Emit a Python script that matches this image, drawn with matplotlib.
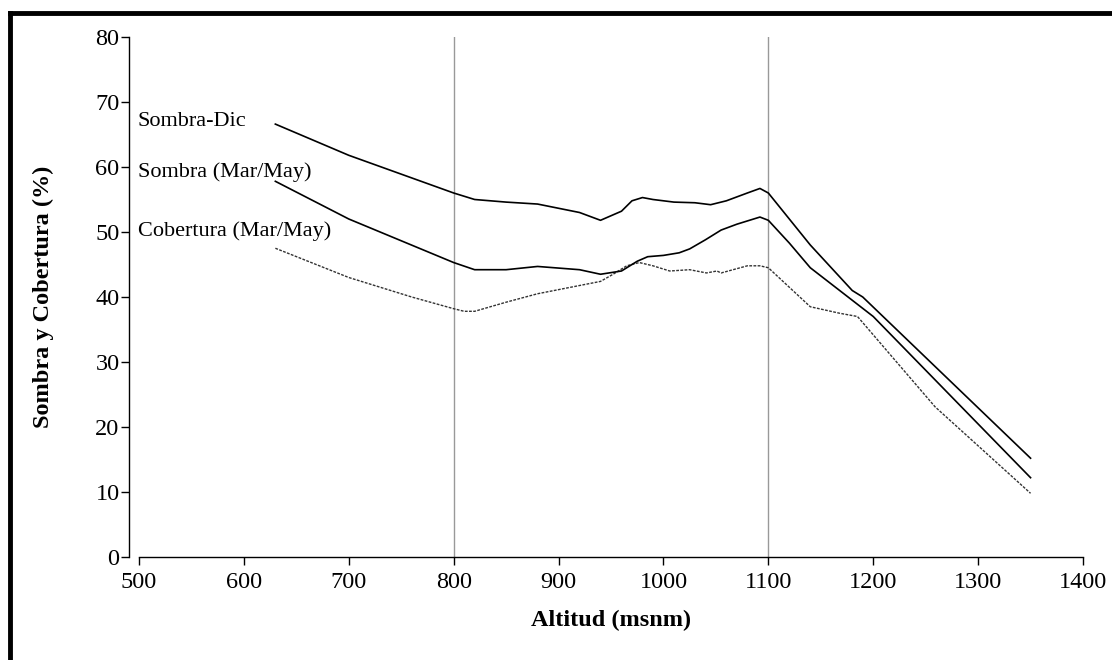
import matplotlib
matplotlib.use("Agg")
import matplotlib.pyplot as plt
from matplotlib.lines import Line2D

plt.rcParams["font.family"] = ["Liberation Serif", "DejaVu Serif"]

# altitud (msnm) y valores (%)
alt_dic = [630, 700, 800, 820, 850, 880, 920, 940, 960, 970, 980, 990, 1010,
           1030, 1045, 1060, 1080, 1092, 1100, 1140, 1180, 1190, 1350]
sombra_dic = [66.6, 61.8, 56.0, 55.0, 54.6, 54.3, 53.0, 51.8, 53.2, 54.8, 55.3,
              55.0, 54.6, 54.5, 54.2, 54.8, 56.0, 56.7, 56.0, 48.0, 41.0, 40.0, 15.2]

alt_mm = [630, 700, 800, 820, 850, 880, 920, 940, 960, 975, 985, 1000, 1015,
          1025, 1040, 1055, 1070, 1092, 1100, 1120, 1140, 1200, 1350]
sombra_mm = [57.8, 52.0, 45.3, 44.2, 44.2, 44.7, 44.2, 43.5, 44.0, 45.5, 46.2,
             46.4, 46.8, 47.4, 48.8, 50.3, 51.2, 52.3, 51.8, 48.3, 44.5, 37.0, 12.2]

alt_cob = [630, 700, 760, 800, 810, 820, 850, 880, 940, 952, 965, 977, 990,
           1006, 1025, 1041, 1051, 1055, 1080, 1092, 1100, 1140, 1168, 1185,
           1259, 1350]
cobertura_mm = [47.5, 43.0, 40.0, 38.2, 37.8, 37.8, 39.2, 40.5, 42.4, 43.5,
                44.8, 45.3, 44.8, 44.0, 44.2, 43.7, 44.0, 43.7, 44.8, 44.8,
                44.5, 38.5, 37.5, 37.0, 23.1, 9.8]

guias = [800, 1100]
xticks = list(range(500, 1401, 100))
yticks = list(range(0, 81, 10))

fig = plt.figure(figsize=(11.12, 6.6), dpi=100)
ax = fig.add_axes([139/1112, 1 - 557/660, (1083 - 139)/1112, (557 - 37)/660])

for g in guias:
    ax.plot([g, g], [0, 80], color="#999999", lw=1.0, zorder=1)

ax.plot(alt_dic, sombra_dic, color="black", lw=1.2, zorder=3)
ax.plot(alt_mm, sombra_mm, color="black", lw=1.2, zorder=3)
ax.plot(alt_cob, cobertura_mm, color="#333333", lw=1.0,
        linestyle=(0, (2, 1)), zorder=2)

ax.set_xlim(500, 1400)
ax.set_ylim(0, 80)
ax.set_xticks(xticks)
ax.set_yticks(yticks)
ax.spines["top"].set_visible(False)
ax.spines["right"].set_visible(False)
ax.spines["left"].set_position(("outward", 7))
ax.spines["left"].set_linewidth(1.0)
ax.spines["bottom"].set_linewidth(1.0)
ax.tick_params(axis="y", direction="out", length=6, width=1, labelsize=17.5, pad=1)
ax.tick_params(axis="x", direction="out", length=6, width=1, labelsize=17.5, pad=5)

ax.set_xlabel("Altitud (msnm)", fontsize=17.5, fontweight="bold", labelpad=12)
ax.set_ylabel("Sombra y Cobertura (%)", fontsize=17.5, fontweight="bold", labelpad=30)

ax.text(499, 67.0, "Sombra-Dic", fontsize=16, va="center", ha="left")
ax.text(499, 59.2, "Sombra (Mar/May)", fontsize=16, va="center", ha="left")
ax.text(499, 50.2, "Cobertura (Mar/May)", fontsize=16, va="center", ha="left")

# marco del recuadro (solo borde superior e izquierdo visibles)
fig.add_artist(Line2D([10/1112, 1.0], [1 - 13/660, 1 - 13/660],
                      transform=fig.transFigure, color="black", lw=3.5))
fig.add_artist(Line2D([10/1112, 10/1112], [0.0, 1 - 13/660],
                      transform=fig.transFigure, color="black", lw=3.5))

fig.savefig("out.png", dpi=100, facecolor="white")
